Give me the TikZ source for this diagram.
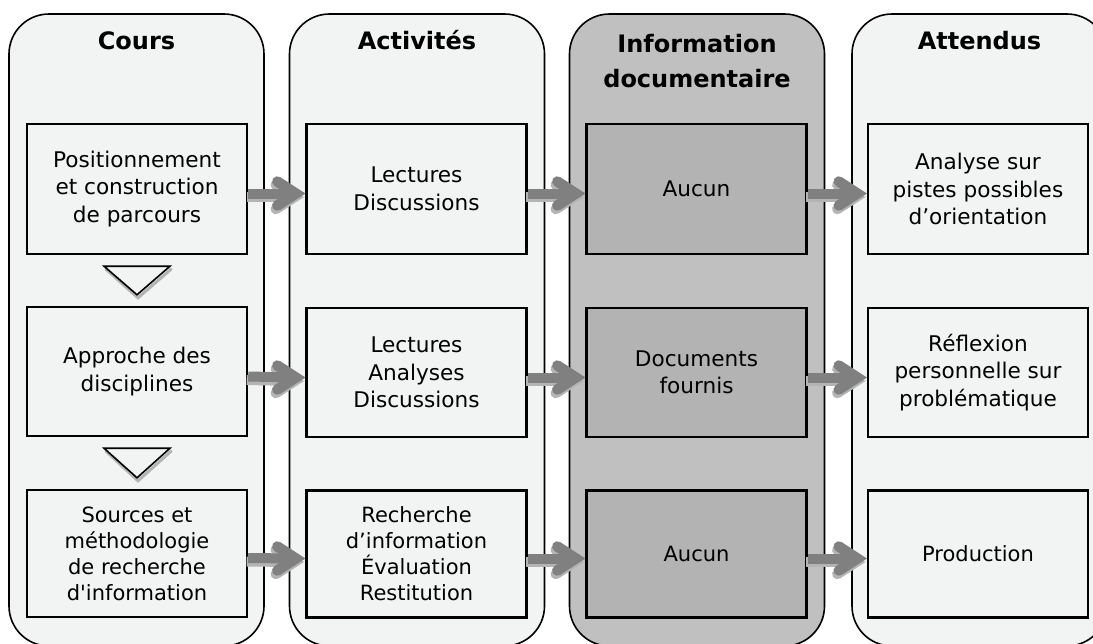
\documentclass[tikz,border=0pt]{standalone}
\usepackage{fontspec}
\setmainfont{DejaVu Sans}[Ligatures=TeXOff]
\usetikzlibrary{calc}
\definecolor{colbg}{HTML}{F2F3F3}
\definecolor{infobg}{HTML}{C0C0C0}
\definecolor{infobox}{HTML}{B3B3B3}
\definecolor{arrgray}{HTML}{808080}
\definecolor{arrshadow}{HTML}{B4B4B4}
\tikzset{
  column/.style={draw=black, line width=1.6pt, rounded corners=40pt, fill=colbg, minimum width=255pt, minimum height=632pt, inner sep=0pt},
  cell/.style={draw=black, line width=2.4pt, fill=colbg, minimum width=220pt, inner sep=0pt, align=center, font=\fontsize{21.6}{27.5}\selectfont},
  lowcell/.style={cell, minimum height=127pt, font=\fontsize{21}{26}\selectfont},
  infocell/.style={cell, fill=infobox},
  coltitle/.style={font=\fontsize{24}{35}\selectfont\bfseries, align=center, inner sep=0pt},
  shaft/.style={line width=10pt, line cap=butt},
  barb/.style={line width=10.5pt, line cap=round, line join=miter},
  trishadow/.style={draw=arrshadow, line width=3pt, line cap=round},
  tri/.style={draw=black, line width=1.6pt, fill=colbg, line join=miter},
}
\newcommand\bigarrow[3]{%
  \coordinate (as) at ($(#1.east)+(0,#3)$);
  \coordinate (at) at ($(#2.west)+(0,#3)$);
  \foreach \dx/\dy/\c in {-1.5/3.5/arrshadow, 0/0/arrgray} {
    \draw[shaft, draw=\c] ($(as)+(\dx,\dy)$) -- ($(at)+(-10+\dx,\dy)$);
    \draw[barb, draw=\c] ($(at)+(-28+\dx,-12+\dy)$) -- ($(at)+(-9.5+\dx,\dy)$) -- ($(at)+(-28+\dx,12+\dy)$);
  }
}
\newcommand\downtri[2]{%
  \coordinate (ta) at ($(#1.south)+(-33,11)$);
  \coordinate (tb) at ($(#1.south)+(33,11)$);
  \coordinate (tc) at ($(#2.north)+(0,-11)$);
  \draw[trishadow] ($(ta)+(2,3)$) -- ($(tc)+(1,3)$) -- ($(tb)+(1,3)$);
  \draw[tri] (ta) -- (tb) -- (tc) -- cycle;
}
\begin{document}
\begin{tikzpicture}[x=1pt,y=-1pt]
\useasboundingbox (0,0) rectangle (1093,643);
\clip (0,0) rectangle (1093,643);
\fill[white] (0,0) rectangle (1093,643);
% columns
\node[column] (col1) at (136.5,330) {};
\node[column] (col2) at (417,330) {};
\node[column, fill=infobg] (col3) at (697,330) {};
\node[column] (col4) at (979.5,330) {};
% titles
\node[coltitle, anchor=base] (t1) at (136.5,49) {Cours};
\node[coltitle, anchor=base] (t2) at (417,49) {Activités};
\node[coltitle, anchor=north] (t3) at (697,34) {Information\\documentaire};
\node[coltitle, anchor=base] (t4) at (979.5,49) {Attendus};
% cells
\node[cell, minimum height=130pt] (c11) at (137,189) {Positionnement\\et construction\\de parcours};
\node[cell, minimum height=129pt] (c21) at (137,371.5) {Approche des\\disciplines};
\node[lowcell] (c31) at (137,553.5) {Sources et\\méthodologie\\de recherche\\d'information};
\node[cell, minimum height=130pt] (c12) at (416.5,189) {Lectures\\Discussions};
\node[cell, minimum height=129pt] (c22) at (416.5,372.5) {Lectures\\Analyses\\Discussions};
\node[lowcell] (c32) at (416.5,554) {Recherche\\d’information\\Évaluation\\Restitution};
\node[infocell, minimum height=130pt] (c13) at (696.5,189) {Aucun};
\node[infocell, minimum height=129pt] (c23) at (696.5,372.5) {Documents\\fournis};
\node[lowcell, fill=infobox] (c33) at (696.5,554) {Aucun};
\node[cell, minimum height=130pt] (c14) at (978,189) {Analyse sur\\pistes possibles\\d’orientation};
\node[cell, minimum height=129pt] (c24) at (978,372.5) {Réflexion\\personnelle sur\\problématique};
\node[lowcell] (c34) at (978,554) {Production};
% triangles
\downtri{c11}{c21}
\downtri{c21}{c31}
% arrows
\bigarrow{c11}{c12}{4.5}
\bigarrow{c12}{c13}{4.5}
\bigarrow{c13}{c14}{4.5}
\bigarrow{c21}{c22}{5}
\bigarrow{c22}{c23}{5}
\bigarrow{c23}{c24}{5}
\bigarrow{c31}{c32}{4.5}
\bigarrow{c32}{c33}{4.5}
\bigarrow{c33}{c34}{4.5}
\end{tikzpicture}
\end{document}
